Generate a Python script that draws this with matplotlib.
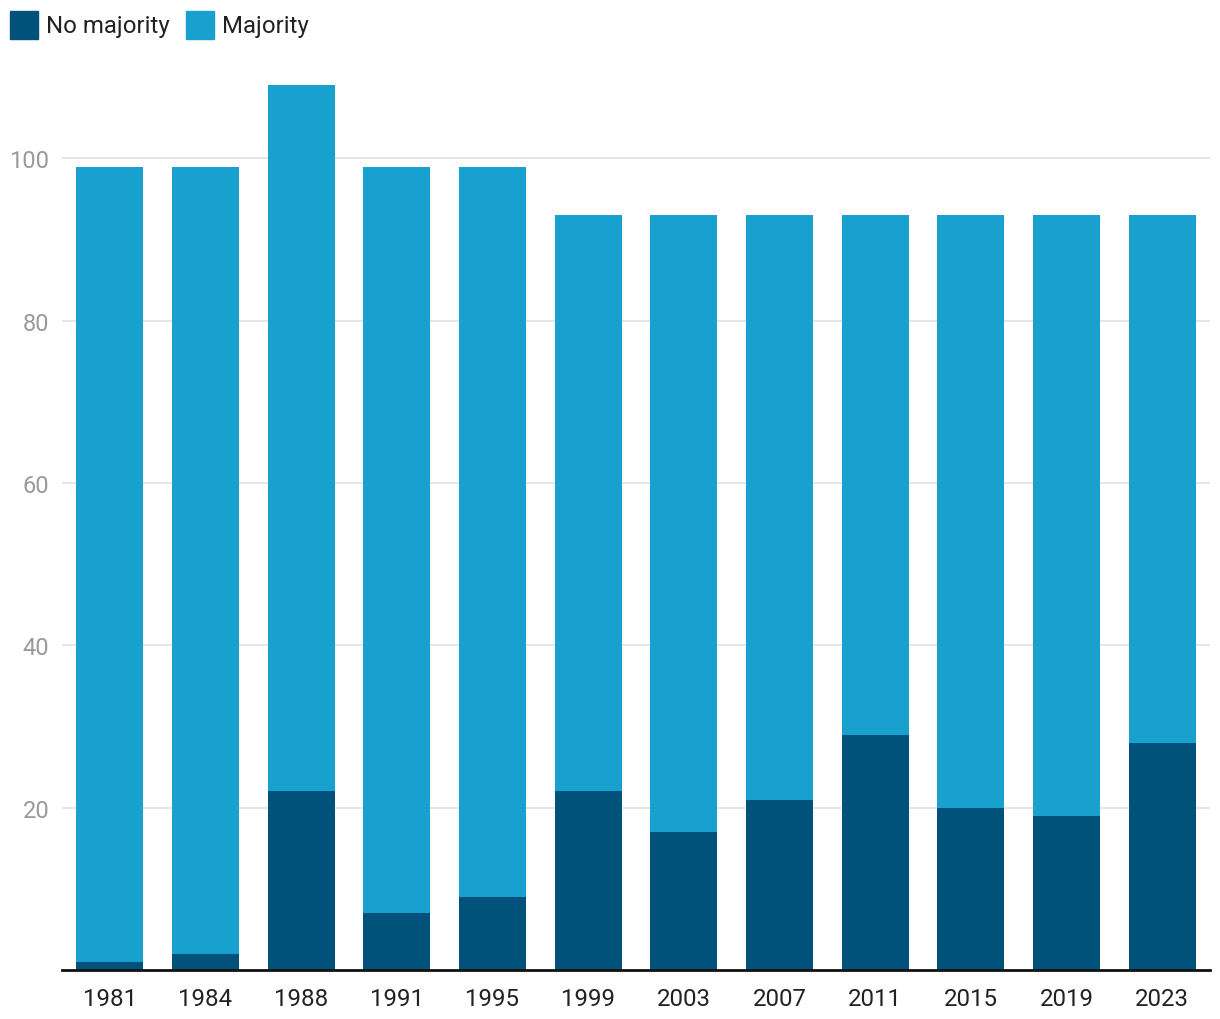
import matplotlib
matplotlib.use("Agg")
import matplotlib.pyplot as plt
from matplotlib.patches import Rectangle

plt.rcParams['font.family'] = ['Roboto', 'DejaVu Sans']

years = ["1981", "1984", "1988", "1991", "1995", "1999", "2003", "2007", "2011", "2015", "2019", "2023"]
no_majority = [1, 2, 22, 7, 9, 22, 17, 21, 29, 20, 19, 28]
majority = [98, 97, 87, 92, 90, 71, 76, 72, 64, 73, 74, 65]
series_names = ["No majority", "Majority"]
colors = ["#00527A", "#18A1CE"]
yticks = [20, 40, 60, 80, 100]

W, H = 1220, 1020
fig = plt.figure(figsize=(W / 100, H / 100), dpi=100)
ax = fig.add_axes([62 / W, (H - 971) / H, (1210 - 62) / W, (971 - 62) / H])

x = list(range(len(years)))
ax.bar(x, no_majority, width=0.7, color=colors[0], zorder=3)
ax.bar(x, majority, width=0.7, bottom=no_majority, color=colors[1], zorder=3)

ax.set_xlim(-0.5, len(years) - 0.5)
ax.set_ylim(0, 112)
ax.set_yticks(yticks)
ax.set_yticklabels([str(t) for t in yticks])
ax.set_xticks(x)
ax.set_xticklabels(years)
ax.grid(axis='y', color='#e3e3e3', linewidth=1.3, zorder=0)
for s in ['top', 'right', 'left']:
    ax.spines[s].set_visible(False)
ax.spines['bottom'].set_color('#111111')
ax.spines['bottom'].set_linewidth(2)
ax.spines['bottom'].set_zorder(4)
ax.tick_params(axis='y', length=0, labelsize=17, labelcolor='#9a9a9a', pad=9)
ax.tick_params(axis='x', length=0, labelsize=17.3, labelcolor='#222222', pad=12)

# legend
lx = 10
for name, c in zip(series_names, colors):
    fig.patches.append(Rectangle((lx / W, (H - 40) / H), 28 / W, 28 / H,
                                 transform=fig.transFigure, color=c, figure=fig))
    t = fig.text((lx + 36) / W, (H - 27) / H, name, fontsize=17.3, color='#222222',
                 va='center', ha='left')
    fig.canvas.draw()
    bb = t.get_window_extent()
    lx = bb.x1 + 16

fig.savefig("out.png", dpi=100)
